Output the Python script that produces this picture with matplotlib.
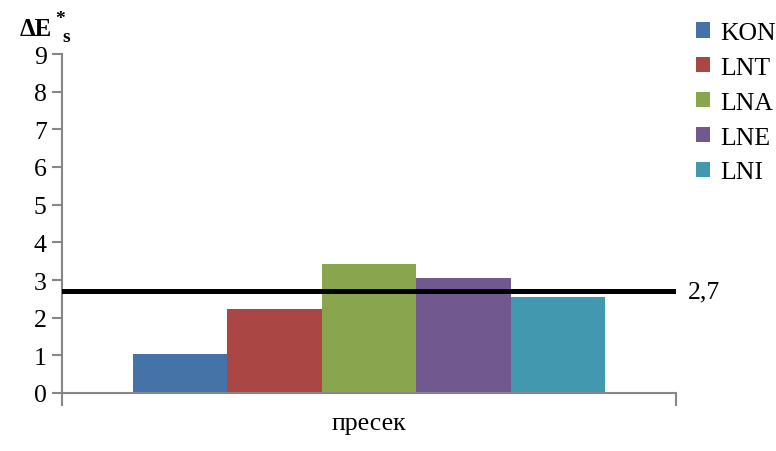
import numpy as np
import matplotlib.pyplot as plt

plt.rcParams["font.family"] = ["Liberation Serif", "DejaVu Serif"]

category = "пресек"
series = ["KON", "LNT", "LNA", "LNE", "LNI"]
values = [1.04, 2.24, 3.43, 3.06, 2.56]
colors = ["#4572A7", "#AA4643", "#89A54E", "#71588F", "#4198AF"]
threshold = 2.7
threshold_label = "2,7"
yticks = list(range(0, 10))

fig = plt.figure(figsize=(7.76, 4.52), dpi=100)
ax = fig.add_axes([62 / 776, 1 - 394 / 452, 614 / 776, 339 / 452])

n = len(series)
width = 0.77 / n
start = -0.77 / 2
for i, (name, v, c) in enumerate(zip(series, values, colors)):
    ax.bar(start + i * width, v, width=width, align="edge", color=c,
           edgecolor="none", label=name, zorder=2)

ax.axhline(threshold, color="black", linewidth=3.6, zorder=3)
ax.text(1.02, threshold, threshold_label, transform=ax.get_yaxis_transform(),
        ha="left", va="center", fontsize=18.5, clip_on=False)

ax.set_xlim(-0.5, 0.5)
ax.set_ylim(0, 9)
ax.set_yticks(yticks)
ax.set_xticks([-0.5, 0.5])
ax.set_xticklabels([])
ax.set_xticks([0], minor=True)
ax.set_xticklabels([category], minor=True)
ax.tick_params(axis="x", which="minor", length=0, pad=14, labelsize=18.5)
ax.tick_params(axis="x", which="major", length=9, color="#868686", width=1.5,
               direction="out")
ax.tick_params(axis="y", length=7, color="#868686", width=1.5, labelsize=18.5,
               pad=4)

for s in ["top", "right"]:
    ax.spines[s].set_visible(False)
for s in ["left", "bottom"]:
    ax.spines[s].set_color("#868686")
    ax.spines[s].set_linewidth(1.5)

# axis title: bold delta E with superscript * and subscript s
fig.text(20 / 776, 1 - 30 / 452, "ΔE", fontsize=18, fontweight="bold",
         ha="left", va="center")
fig.text(55 / 776, 1 - 20 / 452, "*", fontsize=14, fontweight="bold",
         ha="left", va="center")
fig.text(62 / 776, 1 - 37 / 452, "s", fontsize=14, fontweight="bold",
         ha="left", va="center")

ax.legend(loc="upper left", bbox_to_anchor=(696 / 776, 1 - 23 / 452),
          bbox_transform=fig.transFigure, frameon=False, fontsize=18.5,
          handlelength=0.55, handleheight=0.55, handletextpad=0.4,
          labelspacing=0.5, borderaxespad=0, borderpad=0)

fig.savefig("out.png", dpi=100)
